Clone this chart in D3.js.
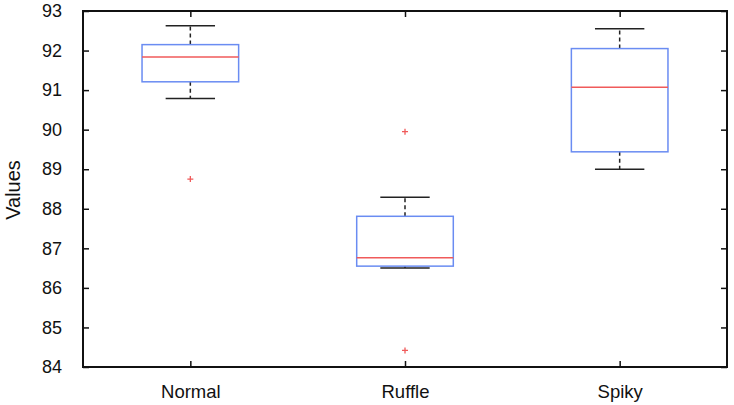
<!DOCTYPE html>
<html>
<head>
<meta charset="utf-8">
<script src="https://cdn.jsdelivr.net/npm/d3@7"></script>
<style>
  body { margin: 0; background: #fff; }
  text { font-family: "Liberation Sans", Arial, sans-serif; }
</style>
</head>
<body>
<div id="chart"></div>
<script>
// box plot data
var groups = ["Normal", "Ruffle", "Spiky"];
var lowerWhisker = [90.79, 86.50, 89.00];
var q1 = [91.21, 86.55, 89.44];
var medians = [91.84, 86.76, 91.07];
var q3 = [92.15, 87.81, 92.05];
var upperWhisker = [92.63, 88.29, 92.55];
var outliers = [[88.75], [89.95, 84.42], []];
var yTicks = [84, 85, 86, 87, 88, 89, 90, 91, 92, 93];

var width = 734, height = 405;
var margin = {left: 83, right: 7, top: 11, bottom: 38};
var pw = width - margin.left - margin.right;
var ph = height - margin.top - margin.bottom;

var boxColor = "#6a8cf2", medColor = "#f05a5a";

var svg = d3.select("#chart").append("svg")
    .attr("width", width)
    .attr("height", height);
var g = svg.append("g")
    .attr("transform", "translate(" + margin.left + "," + margin.top + ")");

var x = d3.scaleLinear().domain([0.5, 3.5]).range([0, pw]);
var y = d3.scaleLinear().domain([84, 93]).range([ph, 0]);

var boxes = groups.map(function(name, i) {
    return {
        name: name, pos: i + 1,
        lo: lowerWhisker[i], q1: q1[i], med: medians[i], q3: q3[i], hi: upperWhisker[i],
        out: outliers[i]
    };
});

var boxW = x(1.225) - x(1);   // half box width
var capW = x(1.115) - x(1);   // half cap width

var b = g.selectAll(".box").data(boxes).enter().append("g").attr("class", "box");

// dashed whiskers
b.append("line")
    .attr("x1", d => x(d.pos)).attr("x2", d => x(d.pos))
    .attr("y1", d => y(d.q3)).attr("y2", d => y(d.hi))
    .attr("stroke", "#222").attr("stroke-width", 1.5).attr("stroke-dasharray", "4,3");
b.append("line")
    .attr("x1", d => x(d.pos)).attr("x2", d => x(d.pos))
    .attr("y1", d => y(d.q1)).attr("y2", d => y(d.lo))
    .attr("stroke", "#222").attr("stroke-width", 1.5).attr("stroke-dasharray", "4,3");
// caps
b.append("line")
    .attr("x1", d => x(d.pos) - capW).attr("x2", d => x(d.pos) + capW)
    .attr("y1", d => y(d.hi)).attr("y2", d => y(d.hi))
    .attr("stroke", "#222").attr("stroke-width", 1.5);
b.append("line")
    .attr("x1", d => x(d.pos) - capW).attr("x2", d => x(d.pos) + capW)
    .attr("y1", d => y(d.lo)).attr("y2", d => y(d.lo))
    .attr("stroke", "#222").attr("stroke-width", 1.5);
// box
b.append("rect")
    .attr("x", d => x(d.pos) - boxW)
    .attr("width", 2 * boxW)
    .attr("y", d => y(d.q3))
    .attr("height", d => y(d.q1) - y(d.q3))
    .attr("fill", "none").attr("stroke", boxColor).attr("stroke-width", 1.5);
// median
b.append("line")
    .attr("x1", d => x(d.pos) - boxW).attr("x2", d => x(d.pos) + boxW)
    .attr("y1", d => y(d.med)).attr("y2", d => y(d.med))
    .attr("stroke", medColor).attr("stroke-width", 1.5);
// outliers as '+'
b.selectAll(".out").data(d => d.out.map(v => ({pos: d.pos, v: v}))).enter()
    .append("path")
    .attr("d", d => "M" + (x(d.pos) - 3) + "," + y(d.v) + "h6M" + x(d.pos) + "," + (y(d.v) - 3) + "v6")
    .attr("stroke", medColor).attr("stroke-width", 1.3);

// axes, ticks inward
var yAxis = d3.axisLeft(y).tickValues(yTicks).tickSizeInner(-6).tickSizeOuter(0).tickPadding(21);
var yAx = g.append("g").call(yAxis);
yAx.selectAll("text").style("font-size", "18px").attr("fill", "#111");
var yRight = g.append("g").attr("transform", "translate(" + pw + ",0)")
    .call(d3.axisRight(y).tickValues(yTicks).tickSizeInner(-6).tickSizeOuter(0).tickFormat(""));

var xAxis = d3.axisBottom(x).tickValues([1, 2, 3]).tickSizeInner(-6).tickSizeOuter(0)
    .tickPadding(18).tickFormat(d => groups[d - 1]);
var xAx = g.append("g").attr("transform", "translate(0," + ph + ")").call(xAxis);
xAx.selectAll("text").style("font-size", "18.5px").attr("fill", "#111");
g.append("g").call(d3.axisTop(x).tickValues([1, 2, 3]).tickSizeInner(-6).tickSizeOuter(0).tickFormat(""));

g.selectAll(".domain").remove();
g.selectAll(".tick line").attr("stroke", "#111").attr("stroke-width", 1.5);

// frame
g.append("rect")
    .attr("width", pw).attr("height", ph)
    .attr("fill", "none").attr("stroke", "#111").attr("stroke-width", 2);

svg.append("text")
    .attr("transform", "translate(20," + (margin.top + ph / 2 + 1) + ")rotate(-90)")
    .attr("text-anchor", "middle")
    .style("font-size", "20px").attr("fill", "#111")
    .text("Values");
</script>
</body>
</html>
